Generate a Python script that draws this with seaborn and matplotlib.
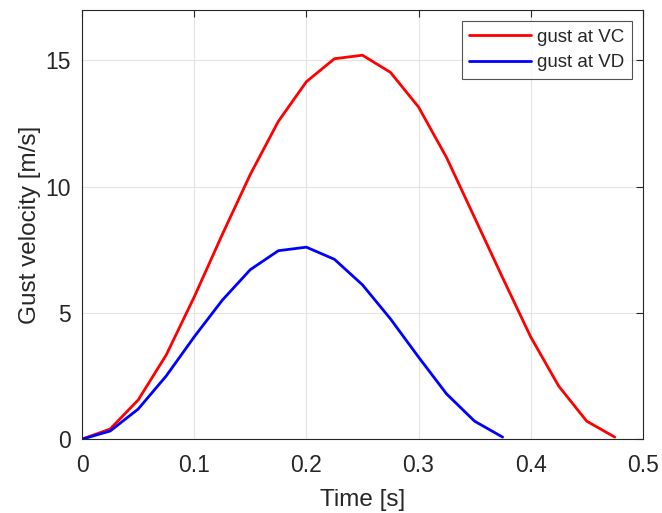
import matplotlib
matplotlib.use("Agg")
import matplotlib.pyplot as plt
import pandas as pd
import seaborn as sns

# gust profiles sampled every 0.025 s
time_vc = [0, 0.025, 0.05, 0.075, 0.1, 0.125, 0.15, 0.175, 0.2, 0.225,
           0.25, 0.275, 0.3, 0.325, 0.35, 0.375, 0.4, 0.425, 0.45, 0.475]
gust_vc = [0, 0.4, 1.55, 3.33, 5.63, 8.1, 10.48, 12.58, 14.15, 15.06,
           15.2, 14.52, 13.15, 11.15, 8.77, 6.39, 4.05, 2.1, 0.71, 0.08]

time_vd = [0, 0.025, 0.05, 0.075, 0.1, 0.125, 0.15, 0.175, 0.2, 0.225,
           0.25, 0.275, 0.3, 0.325, 0.35, 0.375]
gust_vd = [0, 0.32, 1.19, 2.5, 4.05, 5.5, 6.71, 7.46, 7.6, 7.12,
           6.11, 4.76, 3.25, 1.79, 0.71, 0.08]

df = pd.concat([
    pd.DataFrame({"t": time_vc, "v": gust_vc, "case": "gust at VC"}),
    pd.DataFrame({"t": time_vd, "v": gust_vd, "case": "gust at VD"}),
])

sns.set_style("white")
plt.rcParams['font.family'] = ['Liberation Sans', 'DejaVu Sans']

fig, ax = plt.subplots(figsize=(6.62, 5.13), dpi=100)
fig.subplots_adjust(left=0.124, right=0.971, top=0.981, bottom=0.144)

sns.lineplot(data=df, x="t", y="v", hue="case",
             palette={"gust at VC": "#ff0000", "gust at VD": "#0000ff"},
             linewidth=2, ax=ax, estimator=None, sort=False)

ax.set_xlim(0, 0.5)
ax.set_ylim(0, 17)
ax.set_xticks([0, 0.1, 0.2, 0.3, 0.4, 0.5])
ax.set_xticklabels(["0", "0.1", "0.2", "0.3", "0.4", "0.5"])
ax.set_yticks([0, 5, 10, 15])
ax.grid(True, color="#e3e3e3", linewidth=0.8)
ax.set_axisbelow(True)
for s in ax.spines.values():
    s.set_color("#262626")
    s.set_linewidth(0.8)
ax.tick_params(direction="in", top=True, right=True, length=5,
               labelsize=16.5, colors="#262626")
ax.tick_params(axis="x", pad=11)
ax.tick_params(axis="y", pad=8)

ax.set_xlabel("Time [s]", fontsize=17.5, color="#262626", labelpad=8)
ax.set_ylabel("Gust velocity [m/s]", fontsize=17.5, color="#262626", labelpad=3)

leg = ax.legend(loc="upper right", fontsize=13.5, frameon=True, fancybox=False,
                edgecolor="#262626", handlelength=3.3, borderaxespad=0.6,
                handletextpad=0.3, labelspacing=0.45, borderpad=0.4)
leg.get_frame().set_linewidth(0.8)

fig.savefig("out.png", dpi=100)
